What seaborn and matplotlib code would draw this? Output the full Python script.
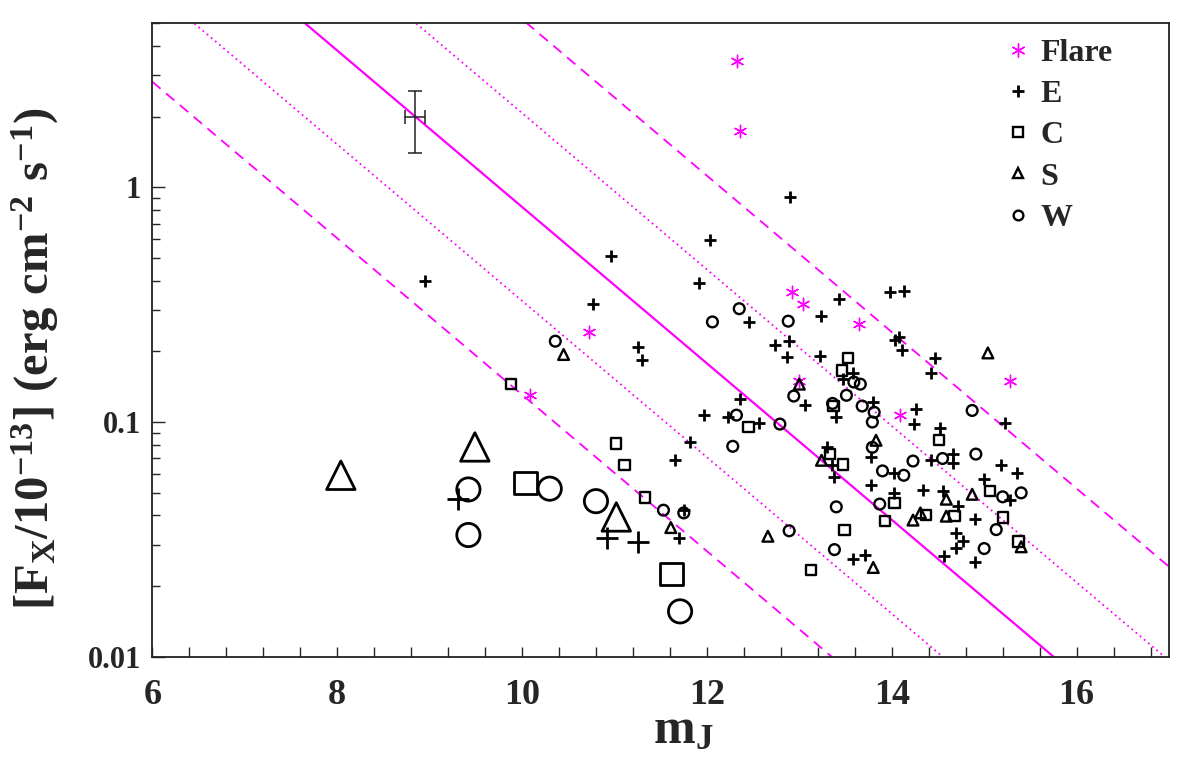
import numpy as np
import matplotlib
matplotlib.use("Agg")
import matplotlib.pyplot as plt
from matplotlib.lines import Line2D
from matplotlib.ticker import FixedLocator, MultipleLocator, LogLocator, NullFormatter
import seaborn as sns

# ---------------- data (m_J, F_X / 1e-13) ----------------
flare_x = [12.33, 12.36, 12.92, 13.04, 13.65, 10.72, 10.09, 14.09, 15.28, 13.00]
flare_y = [3.46, 1.73, 0.357, 0.319, 0.262, 0.241, 0.131, 0.107, 0.150, 0.150]

E_x = [8.95, 12.90, 12.03, 10.96, 11.92, 10.77, 13.43, 13.23, 12.46, 13.98,
       14.13, 14.03, 14.08, 14.11, 14.47, 14.42, 15.22, 14.26, 14.24, 14.52,
       12.74, 12.89, 12.87, 13.22, 12.36, 13.06, 11.97, 12.23, 12.56, 13.58,
       13.47, 13.40, 13.80, 13.78, 13.78, 14.02, 14.43, 14.66, 14.66, 15.18,
       15.36, 15.00, 15.28, 14.90, 14.56, 14.70, 14.77, 14.70, 14.90, 14.55,
       14.72, 14.34, 14.02, 13.58, 13.71, 13.30, 13.37, 13.35, 11.26, 11.30,
       11.82, 11.65, 11.75, 11.70]
E_y = [0.398, 0.913, 0.597, 0.508, 0.392, 0.319, 0.335, 0.284, 0.266, 0.357,
       0.360, 0.223, 0.230, 0.203, 0.187, 0.161, 0.099, 0.114, 0.098, 0.094,
       0.212, 0.221, 0.190, 0.192, 0.125, 0.118, 0.107, 0.105, 0.099, 0.161,
       0.153, 0.105, 0.122, 0.0708, 0.0537, 0.0607, 0.0687, 0.073, 0.067, 0.0654,
       0.0607, 0.0569, 0.0464, 0.0254, 0.0268, 0.0336, 0.0311, 0.029, 0.0388, 0.0507,
       0.0438, 0.0512, 0.0496, 0.0262, 0.0271, 0.0783, 0.0583, 0.0654, 0.209, 0.183,
       0.0822, 0.0687, 0.042, 0.0319]

C_x = [14.51, 12.45, 13.53, 13.46, 13.37, 15.06, 15.20, 15.37, 14.68, 14.37,
       14.03, 13.93, 13.49, 13.33, 13.47, 13.13, 9.88, 11.02, 11.11, 11.33]
C_y = [0.0836, 0.095, 0.188, 0.166, 0.117, 0.0507, 0.0392, 0.031, 0.0397, 0.0401,
       0.0452, 0.0379, 0.0346, 0.0733, 0.066, 0.0234, 0.145, 0.0809, 0.0654, 0.0477]

S_x = [15.04, 13.00, 13.83, 14.87, 15.40, 14.59, 14.59, 14.23, 14.31, 13.80,
       13.24, 12.66, 10.45, 11.61]
S_y = [0.197, 0.145, 0.0836, 0.0492, 0.0294, 0.0469, 0.0397, 0.0382, 0.041, 0.024,
       0.0687, 0.0326, 0.194, 0.0355]

W_x = [14.87, 13.79, 13.90, 14.13, 14.23, 14.55, 14.91, 15.20, 15.40, 15.13,
       15.00, 13.87, 12.79, 12.94, 12.35, 12.06, 12.88, 13.59, 13.66, 13.51,
       13.36, 13.68, 13.81, 13.79, 12.28, 13.40, 12.89, 13.38, 10.36, 12.32,
       11.53, 11.75]
W_y = [0.112, 0.078, 0.0619, 0.0593, 0.0682, 0.0699, 0.073, 0.048, 0.0499, 0.0348,
       0.0289, 0.0447, 0.098, 0.129, 0.304, 0.267, 0.269, 0.148, 0.145, 0.130,
       0.120, 0.117, 0.110, 0.100, 0.0788, 0.0435, 0.0344, 0.0286, 0.221, 0.107,
       0.0421, 0.041]

# large-symbol sample
bigS_x = [8.04, 9.49, 11.02]
bigS_y = [0.0593, 0.0783, 0.0394]
bigW_x = [9.42, 9.42, 10.30, 10.80, 11.71]
bigW_y = [0.0516, 0.033, 0.052, 0.046, 0.0156]
bigE_x = [9.31, 10.92, 11.26]
bigE_y = [0.0469, 0.0322, 0.0309]
bigC_x = [10.04, 11.62]
bigC_y = [0.055, 0.0225]

# typical error bar
err_x, err_y = 8.845, 2.0
err_xerr = 0.11
err_ylo, err_yhi = 0.60, 0.58

# reference relations: log F = A + B * mJ + offset
REL_A, REL_B = 3.25, -1.0 / 3.0
REL_OFFSETS = [0.0, -0.4, 0.4, -0.8, 0.8]
REL_STYLES = ["-", ":", ":", "--", "--"]

legend_labels = ["Flare", "E", "C", "S", "W"]

# ---------------- style ----------------
sns.set_style("ticks")
plt.rcParams["font.family"] = ["Liberation Serif", "DejaVu Serif"]
plt.rcParams["font.weight"] = "bold"
plt.rcParams["mathtext.fontset"] = "custom"
plt.rcParams["mathtext.rm"] = "Liberation Serif:bold"
plt.rcParams["mathtext.bf"] = "Liberation Serif:bold"
plt.rcParams["mathtext.it"] = "Liberation Serif:bold"

MAG = "#ff00ff"

fig = plt.figure(figsize=(12, 7.57), dpi=100)
ax = fig.add_axes([0.1269, 0.1325, 0.8473, 0.8367])
ax.set_yscale("log")
ax.set_xlim(6, 17)
ax.set_ylim(0.01, 5)

# relation lines
xl = np.array([6.0, 17.0])
for off, ls in zip(REL_OFFSETS, REL_STYLES):
    lw = 1.6 if ls == "-" else 1.3
    ax.plot(xl, 10 ** (REL_A + REL_B * xl + off), color=MAG, ls=ls, lw=lw,
            dashes=(6, 4) if ls == "--" else ((1, 2) if ls == ":" else ()), zorder=1)

# error bar
ax.errorbar([err_x], [err_y], xerr=[[err_xerr], [err_xerr]],
            yerr=[[err_ylo], [err_yhi]], fmt="none", ecolor="#222222",
            elinewidth=1.1, capsize=5, capthick=1.1, zorder=3)

# normal points
sns.scatterplot(x=flare_x, y=flare_y, marker=(6, 2, 0), s=80, color=MAG,
                linewidth=1.0, ax=ax, zorder=4)
sns.scatterplot(x=E_x, y=E_y, marker="+", s=80, color="black",
                linewidth=2.0, ax=ax, zorder=4)
sns.scatterplot(x=C_x, y=C_y, marker="s", s=55, color="black", facecolor="none",
                edgecolor="black", linewidth=1.7, ax=ax, zorder=4)
sns.scatterplot(x=S_x, y=S_y, marker="^", s=60, color="black", facecolor="none",
                edgecolor="black", linewidth=1.7, ax=ax, zorder=4)
sns.scatterplot(x=W_x, y=W_y, marker="o", s=60, color="black", facecolor="none",
                edgecolor="black", linewidth=1.7, ax=ax, zorder=4)

# large symbols
sns.scatterplot(x=bigE_x, y=bigE_y, marker="+", s=260, color="black",
                linewidth=2.0, ax=ax, zorder=4)
sns.scatterplot(x=bigC_x, y=bigC_y, marker="s", s=270, color="black", facecolor="none",
                edgecolor="black", linewidth=2.0, ax=ax, zorder=4)
sns.scatterplot(x=bigS_x, y=bigS_y, marker="^", s=420, color="black", facecolor="none",
                edgecolor="black", linewidth=2.0, ax=ax, zorder=4)
sns.scatterplot(x=bigW_x, y=bigW_y, marker="o", s=280, color="black", facecolor="none",
                edgecolor="black", linewidth=2.0, ax=ax, zorder=4)

# axes cosmetics
for side in ["left", "bottom", "top", "right"]:
    ax.spines[side].set_visible(True)
    ax.spines[side].set_linewidth(1.3)
    ax.spines[side].set_color("#222222")

ax.xaxis.set_major_locator(FixedLocator([6, 8, 10, 12, 14, 16]))
ax.xaxis.set_minor_locator(MultipleLocator(0.4))
ax.yaxis.set_major_locator(FixedLocator([0.01, 0.1, 1]))
ax.yaxis.set_minor_locator(LogLocator(base=10, subs=np.arange(2, 10)))
ax.yaxis.set_minor_formatter(NullFormatter())
ax.set_yticklabels(["0.01", "0.1", "1"])
ax.set_xticklabels(["6", "8", "10", "12", "14", "16"])

ax.tick_params(axis="x", which="both", direction="in", length=7, width=1.0,
               top=False, labelsize=26, pad=16)
ax.tick_params(axis="y", which="major", direction="in", length=9, width=1.0,
               right=False, labelsize=22, pad=8)
ax.tick_params(axis="y", which="minor", direction="in", length=6, width=1.0, right=False)
for lab in ax.get_xticklabels() + ax.get_yticklabels():
    lab.set_fontweight("bold")

ax.set_xlabel(r"$\mathbf{m_J}$", fontsize=36)
ax.xaxis.set_label_coords(0.522, -0.08)
ax.set_ylabel(r"$\mathbf{[F_X/10^{-13}]\ (erg\ cm^{-2}\ s^{-1})}$", fontsize=35)
ax.yaxis.set_label_coords(-0.09, 0.47)

# legend
handles = [
    Line2D([], [], ls="none", marker=(6, 2, 0), ms=10, mec=MAG, mew=1.0),
    Line2D([], [], ls="none", marker="+", ms=9, mec="black", mew=2.0),
    Line2D([], [], ls="none", marker="s", ms=7, mfc="none", mec="black", mew=1.7),
    Line2D([], [], ls="none", marker="^", ms=7, mfc="none", mec="black", mew=1.7),
    Line2D([], [], ls="none", marker="o", ms=7, mfc="none", mec="black", mew=1.7),
]
ax.legend(handles, legend_labels, loc="upper left", bbox_to_anchor=(0.82, 1.006),
          frameon=False, labelspacing=0.37, handlelength=0.8,
          handletextpad=0.3, borderaxespad=0.2,
          prop={"family": "Liberation Serif", "weight": "bold", "size": 23})

fig.savefig("out.png", dpi=100)
